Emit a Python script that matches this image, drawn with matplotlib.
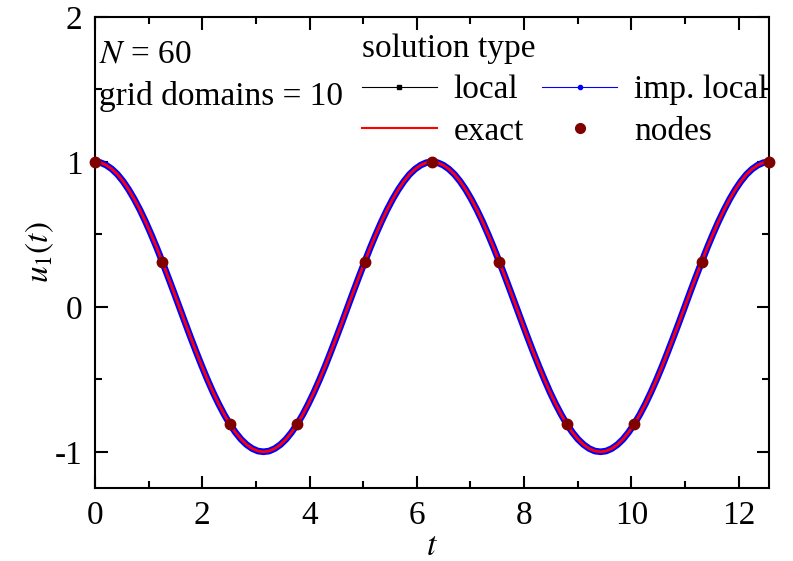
import numpy as np
import matplotlib
matplotlib.use('Agg')
import matplotlib.pyplot as plt
from matplotlib.lines import Line2D

plt.rcParams['font.family'] = ['Liberation Serif', 'DejaVu Serif']
plt.rcParams['mathtext.fontset'] = 'stix'
plt.rcParams['font.size'] = 24

t_curve = [0.000, 0.105, 0.209, 0.314, 0.419, 0.524, 0.628, 0.733, 0.838, 0.942,
           1.047, 1.152, 1.257, 1.361, 1.466, 1.571, 1.676, 1.780, 1.885, 1.990,
           2.094, 2.199, 2.304, 2.409, 2.513, 2.618, 2.723, 2.827, 2.932, 3.037,
           3.142, 3.246, 3.351, 3.456, 3.560, 3.665, 3.770, 3.875, 3.979, 4.084,
           4.189, 4.294, 4.398, 4.503, 4.608, 4.712, 4.817, 4.922, 5.027, 5.131,
           5.236, 5.341, 5.445, 5.550, 5.655, 5.760, 5.864, 5.969, 6.074, 6.178,
           6.283, 6.388, 6.493, 6.597, 6.702, 6.807, 6.912, 7.016, 7.121, 7.226,
           7.330, 7.435, 7.540, 7.645, 7.749, 7.854, 7.959, 8.063, 8.168, 8.273,
           8.378, 8.482, 8.587, 8.692, 8.796, 8.901, 9.006, 9.111, 9.215, 9.320,
           9.425, 9.529, 9.634, 9.739, 9.844, 9.948, 10.053, 10.158, 10.263, 10.367,
           10.472, 10.577, 10.681, 10.786, 10.891, 10.996, 11.100, 11.205, 11.310, 11.414,
           11.519, 11.624, 11.729, 11.833, 11.938, 12.043, 12.147, 12.252, 12.357, 12.462,
           12.566]
u_exact = [1.000, 0.995, 0.978, 0.951, 0.914, 0.866, 0.809, 0.743, 0.669, 0.588,
           0.500, 0.407, 0.309, 0.208, 0.105, 0.000, -0.105, -0.208, -0.309, -0.407,
           -0.500, -0.588, -0.669, -0.743, -0.809, -0.866, -0.914, -0.951, -0.978, -0.995,
           -1.000, -0.995, -0.978, -0.951, -0.914, -0.866, -0.809, -0.743, -0.669, -0.588,
           -0.500, -0.407, -0.309, -0.208, -0.105, 0.000, 0.105, 0.208, 0.309, 0.407,
           0.500, 0.588, 0.669, 0.743, 0.809, 0.866, 0.914, 0.951, 0.978, 0.995,
           1.000, 0.995, 0.978, 0.951, 0.914, 0.866, 0.809, 0.743, 0.669, 0.588,
           0.500, 0.407, 0.309, 0.208, 0.105, 0.000, -0.105, -0.208, -0.309, -0.407,
           -0.500, -0.588, -0.669, -0.743, -0.809, -0.866, -0.914, -0.951, -0.978, -0.995,
           -1.000, -0.995, -0.978, -0.951, -0.914, -0.866, -0.809, -0.743, -0.669, -0.588,
           -0.500, -0.407, -0.309, -0.208, -0.105, 0.000, 0.105, 0.208, 0.309, 0.407,
           0.500, 0.588, 0.669, 0.743, 0.809, 0.866, 0.914, 0.951, 0.978, 0.995,
           1.000]
u_local = u_exact
u_imp_local = u_exact

t_nodes = [0.000, 1.257, 2.513, 3.770, 5.027, 6.283, 7.540, 8.796, 10.053, 11.310, 12.566]
u_nodes = [1.000, 0.309, -0.809, -0.809, 0.309, 1.000, 0.309, -0.809, -0.809, 0.309, 1.000]

fig = plt.figure(figsize=(7.93, 5.61), dpi=100)
ax = fig.add_axes([0.1198, 0.1301, 0.8499, 0.8396])

ax.plot(t_curve, u_local, color='black', lw=1, zorder=2)
ax.plot(t_curve, u_imp_local, color='#0000ff', lw=4.8, solid_joinstyle='round', zorder=3)
ax.plot(t_curve, u_exact, color='#ff0000', lw=2.0, zorder=4)
ax.plot(t_nodes, u_nodes, 'o', color='#800000', ms=7.5, zorder=5, clip_on=False)

ax.set_xlim(0, 12.566)
ax.set_ylim(-1.25, 2)
ax.set_xticks([0, 2, 4, 6, 8, 10, 12])
ax.set_xticks(np.arange(1, 13, 2), minor=True)
ax.set_yticks([-1, 0, 1, 2])
ax.set_yticklabels(['-1', '0', '1', '2'])
ax.set_yticks([-0.5, 0.5, 1.5], minor=True)
ax.tick_params(which='both', direction='in', top=True, right=True, width=1.5)
ax.tick_params(which='major', length=9)
ax.tick_params(axis='x', which='major', pad=9)
ax.tick_params(axis='y', which='major', pad=9)
ax.tick_params(which='minor', length=5)
for s in ax.spines.values():
    s.set_linewidth(1.5)

ax.set_xlabel('$t$', labelpad=0)
ax.set_ylabel('$u_1(t)$', labelpad=-1)

ax.text(0.006, 0.9040, '$N$ = 60', transform=ax.transAxes, va='baseline', ha='left')
ax.text(0.006, 0.8140, 'grid domains = 10', transform=ax.transAxes, va='baseline', ha='left')

handles = [
    Line2D([], [], color='black', lw=0.8, marker='s', ms=3),
    Line2D([], [], color='red', lw=1.5),
    Line2D([], [], color='#0000ff', lw=0.8, marker='o', ms=3),
    Line2D([], [], color='#800000', lw=0, marker='o', ms=7),
]
labels = ['local', 'exact', 'imp. local', 'nodes']
leg = ax.legend(handles, labels, title='solution type', ncol=2, frameon=False,
                loc='upper left', bbox_to_anchor=(0.396, 0.965), handlelength=2.25,
                handletextpad=0.5, columnspacing=0.55, labelspacing=0.33,
                borderaxespad=0, borderpad=0)
leg._legend_box.align = 'left'
leg.get_title().set_fontsize(24)

fig.savefig('out.png', dpi=100)
